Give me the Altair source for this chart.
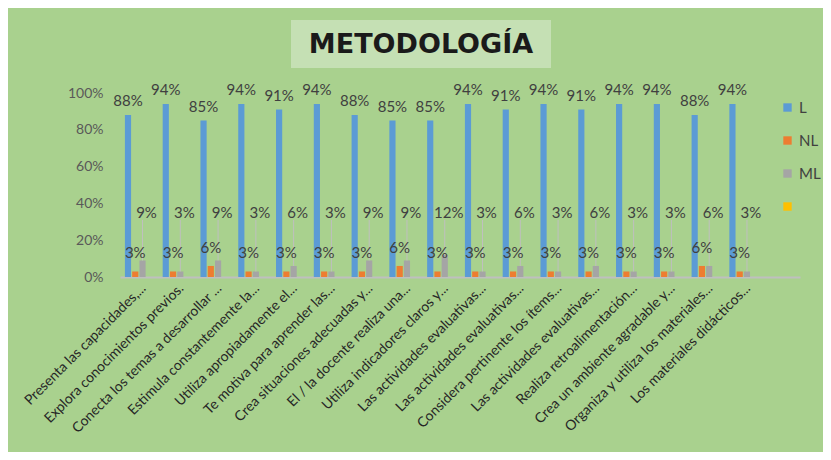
import json
import altair as alt
import pandas as pd

TITLE = "METODOLOGÍA"

CATEGORIES = [
    "Presenta las capacidades,...",
    "Explora conocimientos previos.",
    "Conecta los temas a desarrollar ...",
    "Estimula constantemente la...",
    "Utiliza apropiadamente el...",
    "Te motiva para aprender las...",
    "Crea situaciones adecuadas y...",
    "El / la docente realiza una...",
    "Utiliza indicadores claros y...",
    "Las actividades evaluativas...",
    "Las actividades evaluativas...",
    "Considera pertinente los ítems...",
    "Las actividades evaluativas...",
    "Realiza retroalimentación...",
    "Crea un ambiente agradable y...",
    "Organiza y utiliza los materiales...",
    "Los materiales didácticos...",
]

L_VALUES = [0.88, 0.94, 0.85, 0.94, 0.91, 0.94, 0.88, 0.85, 0.85, 0.94, 0.91, 0.94, 0.91, 0.94, 0.94, 0.88, 0.94]
NL_VALUES = [0.03, 0.03, 0.06, 0.03, 0.03, 0.03, 0.03, 0.06, 0.03, 0.03, 0.03, 0.03, 0.03, 0.03, 0.03, 0.06, 0.03]
ML_VALUES = [0.09, 0.03, 0.09, 0.03, 0.06, 0.03, 0.09, 0.09, 0.12, 0.03, 0.06, 0.03, 0.06, 0.03, 0.03, 0.06, 0.03]

Y_TICKS = [0, 0.2, 0.4, 0.6, 0.8, 1.0]

SERIES = ["L", "NL", "ML", " "]
COLORS = ["#5B9BD5", "#ED7D31", "#A5A5A5", "#FFC000"]

rows = []
for i in range(len(CATEGORIES)):
    rows.append({"idx": i, "serie": "L", "value": L_VALUES[i]})
    rows.append({"idx": i, "serie": "NL", "value": NL_VALUES[i]})
    rows.append({"idx": i, "serie": "ML", "value": ML_VALUES[i]})
df = pd.DataFrame(rows)

n_slots = len(CATEGORIES) + 1
label_list = CATEGORIES + [""]
label_expr = json.dumps(label_list, ensure_ascii=False) + "[datum.value]"

FONT = "Lato"
BG = "#A9D18E"


def x_enc():
    return alt.X(
        "idx:O",
        scale=alt.Scale(domain=list(range(n_slots)), paddingInner=0.26, paddingOuter=0.13),
        axis=alt.Axis(
            title=None,
            labelExpr=label_expr,
            labelAngle=-45,
            labelFont=FONT,
            labelFontSize=14,
            labelColor="#262626",
            labelLimit=0,
            labelOverlap=False,
            ticks=False,
            domainColor="#BFBFBF",
            domainWidth=2,
            labelPadding=4,
            grid=False,
        ),
    )


def y_enc(field):
    return alt.Y(
        field,
        scale=alt.Scale(domain=[0, 1]),
        axis=alt.Axis(
            title=None,
            format=".0%",
            values=Y_TICKS,
            tickCount=6,
            labelFont=FONT,
            labelFontSize=14,
            labelColor="#595959",
            labelPadding=17,
            labelOverlap=False,
            ticks=False,
            domain=False,
            grid=False,
        ),
    )


def xoff_enc():
    return alt.XOffset("serie:N", scale=alt.Scale(domain=SERIES, paddingInner=0.15))


base = alt.Chart(df)

bars = base.mark_bar().encode(
    x=x_enc(),
    xOffset=xoff_enc(),
    y=y_enc("value:Q"),
    color=alt.Color(
        "serie:N",
        scale=alt.Scale(domain=SERIES, range=COLORS),
        legend=alt.Legend(
            title=None,
            orient="none",
            legendX=660,
            legendY=7,
            padding=0,
            symbolType="square",
            symbolSize=70,
            symbolStrokeWidth=0,
            labelOffset=4,
            labelFont=FONT,
            labelFontSize=15,
            labelColor="#404040",
            rowPadding=17,
        ),
    ),
)

l_labels = base.transform_filter("datum.serie == 'L'").mark_text(
    baseline="bottom", dy=-6, font=FONT, fontSize=15, color="#404040"
).encode(x=x_enc(), xOffset=xoff_enc(), y=y_enc("value:Q"), text=alt.Text("value:Q", format=".0%"))

nl_labels = base.transform_filter("datum.serie == 'NL'").mark_text(
    baseline="middle", dy=-18, font=FONT, fontSize=15, color="#404040"
).encode(x=x_enc(), xOffset=xoff_enc(), y=y_enc("value:Q"), text=alt.Text("value:Q", format=".0%"))

ml_lines = base.transform_filter("datum.serie == 'ML'").transform_calculate(
    top="0.31"
).mark_rule(color="#BFBFBF", strokeWidth=1).encode(
    x=x_enc(), xOffset=xoff_enc(), y=y_enc("value:Q"), y2="top:Q"
)

ml_labels = base.transform_filter("datum.serie == 'ML'").transform_calculate(
    ly="0.35"
).mark_text(baseline="middle", dx=4, font=FONT, fontSize=15, color="#404040").encode(
    x=x_enc(), xOffset=xoff_enc(), y=y_enc("ly:Q"), text=alt.Text("value:Q", format=".0%")
)

title_box = alt.Chart(pd.DataFrame({"a": [0]})).mark_rect(color="#C5E0B4").encode(
    x=alt.value(171), x2=alt.value(431), y=alt.value(-73), y2=alt.value(-25)
)
title_text = alt.Chart(pd.DataFrame({"t": [TITLE]})).mark_text(
    font="DejaVu Sans", fontSize=27, fontWeight="bold", color="#1A1A1A", baseline="middle", align="center"
).encode(text="t:N", x=alt.value(301), y=alt.value(-48))

chart = alt.layer(
    title_box, title_text, bars, ml_lines, l_labels, nl_labels, ml_labels
).properties(
    width=680,
    height=184,
    background=BG,
    autosize=alt.AutoSizeParams(type="none"),
    padding={"left": 112, "top": 85, "right": 23, "bottom": 175},
).configure_view(stroke=None)

chart.save("out.html", embed_options={"renderer": "svg", "actions": False})
